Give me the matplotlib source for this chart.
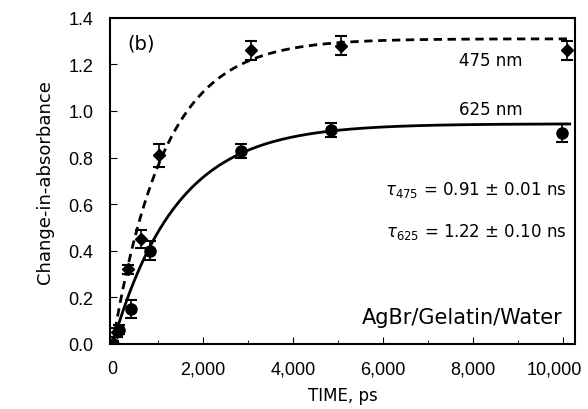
import numpy as np
import matplotlib
matplotlib.use("Agg")
import matplotlib.pyplot as plt
from matplotlib.ticker import MultipleLocator, FuncFormatter

# 475 nm (diamonds)
t475 = [0, 100, 330, 620, 1040, 3070, 5070, 10090]
a475 = [0.0, 0.05, 0.32, 0.45, 0.81, 1.26, 1.28, 1.26]
e475 = [0.01, 0.02, 0.02, 0.04, 0.05, 0.04, 0.04, 0.04]

# 625 nm (circles)
t625 = [0, 150, 400, 820, 2840, 4860, 9980]
a625 = [0.0, 0.06, 0.15, 0.40, 0.83, 0.92, 0.905]
e625 = [0.01, 0.02, 0.04, 0.04, 0.03, 0.03, 0.04]

# fitted curves as drawn: rise time (ps) and plateau
fit475_tau, fit475_amp = 1150, 1.31
fit625_tau, fit625_amp = 1420, 0.945

XMAX_TICK = 10000

fig = plt.figure(figsize=(5.88, 4.10), dpi=100)
ax = fig.add_axes([0.187, 0.159, 0.791, 0.795])

t = np.linspace(0, 10150, 400)
ax.plot(t, fit475_amp * (1 - np.exp(-t / fit475_tau)), "k--", lw=2, dashes=(3, 2))
ax.plot(t, fit625_amp * (1 - np.exp(-t / fit625_tau)), "k-", lw=2)

ax.errorbar(t475, a475, yerr=e475, fmt="D", color="k", ms=6, capsize=4,
            elinewidth=1.2, capthick=1.5)
ax.errorbar(t625, a625, yerr=e625, fmt="o", color="k", ms=8, capsize=4,
            elinewidth=1.2, capthick=1.5)

ax.set_xlim(-60, 10270)
ax.set_ylim(0, 1.4)
ax.xaxis.set_major_locator(MultipleLocator(2000))
ax.xaxis.set_minor_locator(MultipleLocator(1000))
ax.yaxis.set_major_locator(MultipleLocator(0.2))
# last label is drawn separately, a bit left of its tick like the original
ax.xaxis.set_major_formatter(FuncFormatter(
    lambda v, p: "" if v >= XMAX_TICK else f"{int(v):,}"))
ax.yaxis.set_major_formatter(FuncFormatter(lambda v, p: f"{v:.1f}"))
ax.tick_params(direction="in", which="both")
ax.tick_params(axis="x", pad=12)
ax.tick_params(axis="y", pad=12)
ax.tick_params(which="major", length=5)
ax.tick_params(which="minor", length=3)
for lab in ax.get_xticklabels() + ax.get_yticklabels():
    lab.set_family("Liberation Sans")
    lab.set_fontsize(13)
ax.annotate(f"{XMAX_TICK:,}", xy=(XMAX_TICK, 0), xycoords=ax.get_xaxis_transform(),
            xytext=(-6, -12), textcoords="offset points", ha="center", va="top",
            family="Liberation Sans", fontsize=13)
for s in ax.spines.values():
    s.set_linewidth(1.5)

ax.set_xlabel("TIME, ps", fontsize=12, labelpad=6)
ax.set_ylabel("Change-in-absorbance", fontsize=13, labelpad=10)

ax.text(330, 1.29, "(b)", fontsize=14, va="center")
ax.text(7700, 1.22, "475 nm", fontsize=12, va="center")
ax.text(7700, 1.01, "625 nm", fontsize=12, va="center")
ax.text(10080, 0.665, r"$\tau_{475}$ = 0.91 $\pm$ 0.01 ns", fontsize=12,
        ha="right", va="center")
ax.text(10080, 0.485, r"$\tau_{625}$ = 1.22 $\pm$ 0.10 ns", fontsize=12,
        ha="right", va="center")
ax.text(10000, 0.116, "AgBr/Gelatin/Water", fontsize=15, ha="right", va="center")

fig.savefig("out.png", dpi=100)
